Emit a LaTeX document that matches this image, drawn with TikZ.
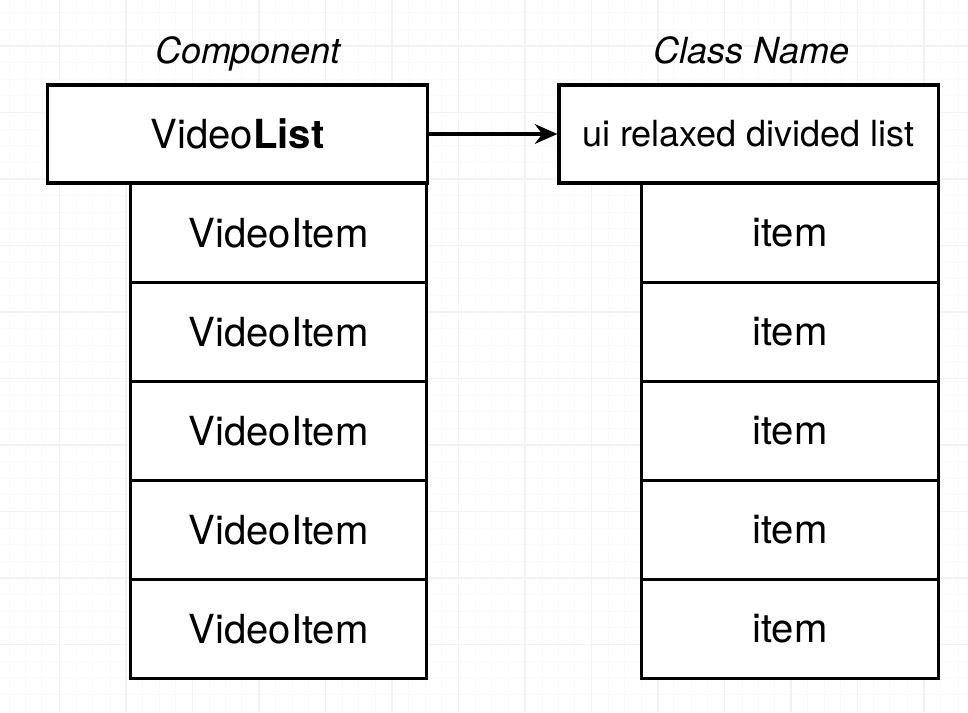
\documentclass[tikz,border=0pt]{standalone}
\usepackage{fontspec}
\setmainfont{TeX Gyre Heros}
\usetikzlibrary{arrows.meta}

\tikzset{
  gridminor/.style={draw=gray!5, line width=0.6pt},
  gridmajor/.style={draw=gray!10, line width=0.8pt},
  cell/.style={draw=black, fill=white, line width=2.2pt, rectangle, inner sep=0pt,
    font=\fontsize{28.5}{34}\selectfont},
  headcell/.style={cell, minimum width=9.475cm, minimum height=2.45cm},
  itemcell/.style={cell, minimum width=7.42cm, minimum height=2.475cm},
  title/.style={anchor=base, font=\fontsize{25.6}{30}\selectfont\itshape}
}

\begin{document}
\begin{tikzpicture}[x=0.025cm, y=-0.025cm]

\useasboundingbox (0,0) rectangle (968,712);

% background grid
\foreach \i in {0,...,57}
  \draw[gridminor] ({9.625+16.625*\i},0) -- ({9.625+16.625*\i},712);
\foreach \j in {0,...,41}
  \draw[gridminor] (0,{12.75+16.625*\j}) -- (968,{12.75+16.625*\j});
\foreach \i in {0,...,13}
  \draw[gridmajor] ({59.5+66.5*\i},0) -- ({59.5+66.5*\i},712);
\foreach \j in {0,...,9}
  \draw[gridmajor] (0,{46+66.5*\j}) -- (968,{46+66.5*\j});

% column titles
\node[title] (comptitle) at (248,63.5) {Component};
\node[title] (classtitle) at (751.5,63.5) {Class Name};

% header boxes
\node[headcell] (videolist) at (237.5,134) {Video\textbf{List}};
\node[headcell, font=\fontsize{25.6}{30}\selectfont] (uilist) at (748.5,134)
  {ui relaxed divided list};

% item rows
\foreach \k in {1,...,5} {
  \node[itemcell] (videoitem\k) at (278.5,{183.5+99*\k-49.5}) {VideoItem};
  \node[itemcell] (item\k) at (790,{183.5+99*\k-49.5}) {item};
}

% mapping arrow
\draw[-{Stealth[length=16pt, width=14pt]}, line width=2.4pt] (videolist.east) -- (uilist.west);

\end{tikzpicture}
\end{document}
